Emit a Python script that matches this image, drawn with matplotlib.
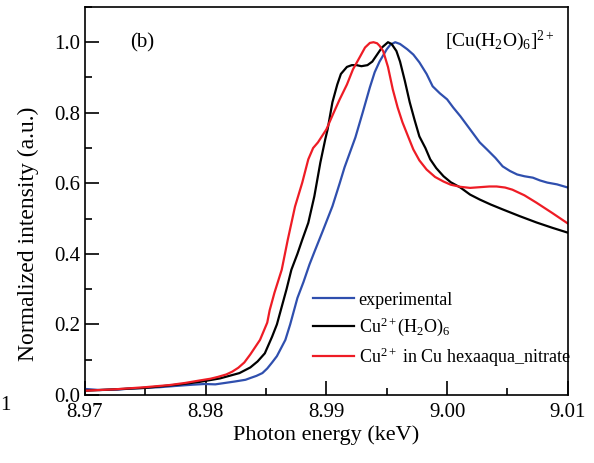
import matplotlib
matplotlib.use('Agg')
import matplotlib.pyplot as plt
from matplotlib.ticker import MultipleLocator

plt.rcParams['font.family'] = ['Liberation Serif', 'DejaVu Serif']
plt.rcParams['mathtext.fontset'] = 'custom'
plt.rcParams['mathtext.rm'] = 'Liberation Serif'
plt.rcParams['mathtext.it'] = 'Liberation Serif:italic'

# experimental spectrum
exp_e = [8.9700, 8.9712, 8.9727, 8.9737, 8.9750, 8.9762, 8.9777, 8.9789, 8.9799,
         8.9808, 8.9816, 8.9824, 8.9833, 8.9837, 8.9842, 8.9847, 8.9851, 8.9855,
         8.9859, 8.9866, 8.9870, 8.9876, 8.9881, 8.9886, 8.9890, 8.9897, 8.9905,
         8.9911, 8.9915, 8.9924, 8.9930, 8.9936, 8.9940, 8.9944, 8.9950,
         8.9953, 8.9957, 8.9961, 8.9967, 8.9972, 8.9977, 8.9983, 8.9988, 8.9994,
         9.0000, 9.0005, 9.0011, 9.0019, 9.0027, 9.0033, 9.0040, 9.0046, 9.0052,
         9.0058, 9.0064, 9.0071, 9.0077, 9.0083, 9.0091, 9.0100]
exp_i = [0.017, 0.014, 0.015, 0.018, 0.020, 0.022, 0.026, 0.029, 0.031,
         0.030, 0.034, 0.038, 0.043, 0.048, 0.054, 0.062, 0.075, 0.092,
         0.110, 0.156, 0.200, 0.275, 0.320, 0.370, 0.405, 0.465, 0.535,
         0.600, 0.645, 0.730, 0.800, 0.872, 0.915, 0.945, 0.980,
         0.993, 1.000, 0.995, 0.980, 0.965, 0.943, 0.910, 0.875, 0.855,
         0.838, 0.815, 0.790, 0.753, 0.716, 0.696, 0.672, 0.648, 0.635,
         0.625, 0.620, 0.616, 0.608, 0.602, 0.597, 0.588]

# Cu2+(H2O)6 calculation
aq_e = [8.9700, 8.9750, 8.9779, 8.9795, 8.9812, 8.9828, 8.9837, 8.9843, 8.9849,
        8.9855, 8.9859, 8.9863, 8.9867, 8.9871, 8.9876, 8.9880, 8.9885, 8.9890,
        8.9895, 8.9899, 8.9901, 8.9905, 8.9909, 8.9912,
        8.9917, 8.9921, 8.9925, 8.9929, 8.9934, 8.9938, 8.9942, 8.9946, 8.9951,
        8.9954, 8.9958, 8.9961, 8.9965, 8.9969, 8.9973, 8.9977, 8.9982, 8.9986,
        8.9991, 8.9997, 9.0003, 9.0011, 9.0019, 9.0027, 9.0036, 9.0046, 9.0060,
        9.0074, 9.0087, 9.0100]
aq_i = [0.012, 0.020, 0.030, 0.037, 0.047, 0.062, 0.078, 0.095, 0.118,
        0.165, 0.200, 0.250, 0.300, 0.355, 0.400, 0.440, 0.488, 0.563,
        0.659, 0.724, 0.753, 0.830, 0.880, 0.910,
        0.930, 0.935, 0.935, 0.932, 0.935, 0.945, 0.965, 0.985, 1.000,
        0.995, 0.975, 0.945, 0.890, 0.830, 0.780, 0.733, 0.700, 0.668,
        0.643, 0.620, 0.603, 0.588, 0.568, 0.554, 0.540, 0.526, 0.507,
        0.489, 0.474, 0.460]

# Cu2+ in Cu hexaaqua nitrate
nit_e = [8.9700, 8.9725, 8.9750, 8.9770, 8.9783, 8.9795, 8.9804, 8.9810, 8.9817,
         8.9822, 8.9827, 8.9832, 8.9837, 8.9845, 8.9851, 8.9853, 8.9857, 8.9863,
         8.9868, 8.9874, 8.9880, 8.9885, 8.9889, 8.9893, 8.9900, 8.9906,
         8.9911, 8.9917, 8.9922, 8.9928, 8.9932, 8.9936, 8.9939, 8.9942,
         8.9944, 8.9947, 8.9951, 8.9955, 8.9959, 8.9963, 8.9968, 8.9972, 8.9977,
         8.9983, 8.9990, 8.9997, 9.0003, 9.0011, 9.0019, 9.0027, 9.0035, 9.0041,
         9.0048, 9.0054, 9.0064, 9.0074, 9.0087, 9.0100]
nit_i = [0.012, 0.016, 0.022, 0.028, 0.034, 0.041, 0.046, 0.051, 0.058,
         0.066, 0.077, 0.092, 0.115, 0.156, 0.205, 0.240, 0.290, 0.355,
         0.440, 0.534, 0.602, 0.668, 0.700, 0.716, 0.753, 0.800,
         0.838, 0.880, 0.923, 0.960, 0.985, 0.998, 1.000, 0.997,
         0.990, 0.975, 0.930, 0.866, 0.815, 0.773, 0.730, 0.696, 0.665,
         0.639, 0.618, 0.605, 0.596, 0.590, 0.587, 0.589, 0.591, 0.591,
         0.588, 0.582, 0.566, 0.545, 0.516, 0.486]

fig = plt.figure(figsize=(5.94, 4.63), dpi=100)
ax = fig.add_axes([0.143, 0.147, 0.813, 0.838])

ax.plot(exp_e, exp_i, color='#2f4fae', lw=1.6, label='experimental')
ax.plot(aq_e, aq_i, color='black', lw=1.6,
        label=r'Cu$^{\mathrm{2+}}$(H$_{\mathrm{2}}$O)$_{\mathrm{6}}$')
ax.plot(nit_e, nit_i, color='#ee1c25', lw=1.6,
        label=r'Cu$^{\mathrm{2+}}$ in Cu hexaaqua_nitrate')

ax.set_xlim(8.97, 9.01)
ax.set_ylim(0, 1.1)
ax.xaxis.set_major_locator(MultipleLocator(0.01))
ax.xaxis.set_minor_locator(MultipleLocator(0.005))
ax.yaxis.set_major_locator(MultipleLocator(0.2))
ax.yaxis.set_minor_locator(MultipleLocator(0.1))
ax.xaxis.set_major_formatter(plt.FormatStrFormatter('%.2f'))
ax.yaxis.set_major_formatter(plt.FormatStrFormatter('%.1f'))
ax.tick_params(which='both', direction='in', top=False, right=False,
               labelsize=15, width=1.2)
ax.tick_params(which='major', length=10)
ax.tick_params(which='minor', length=5)
ax.tick_params(axis='x', pad=6)
for s in ax.spines.values():
    s.set_linewidth(1.2)

ax.set_xlabel('Photon energy (keV)', fontsize=16, labelpad=2)
ax.set_ylabel('Normalized intensity (a.u.)', fontsize=17)
ax.yaxis.set_label_coords(-0.095, 0.415)

ax.text(0.093, 0.895, '(b)', transform=ax.transAxes, fontsize=15)
ax.text(0.745, 0.9, r'[Cu(H$_{\mathrm{2}}$O)$_{\mathrm{6}}$]$^{\mathrm{2+}}$',
        transform=ax.transAxes, fontsize=14)
fig.text(0.0, 0.115, '1', fontsize=15)

ax.legend(loc='upper left', bbox_to_anchor=(0.4566, 0.2845), frameon=False,
          fontsize=13, handlelength=2.3, handletextpad=0.25, labelspacing=0.39,
          borderaxespad=0)

fig.savefig('out.png', dpi=100)
